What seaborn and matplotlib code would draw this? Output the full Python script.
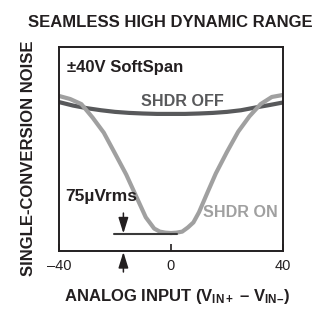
import matplotlib
matplotlib.use("Agg")
import matplotlib.pyplot as plt
import seaborn as sns
import pandas as pd

# Data (arbitrary noise units)
on_x = [-40, -36, -32, -28, -24, -20, -16, -12, -9, -6, -4, -2, 0, 2, 4, 6, 8, 10, 13, 16, 20, 24, 28, 32, 36, 40]
on_y = [76, 74.5, 72, 65.4, 58, 47.8, 37.5, 25.5, 16.5, 11, 9.5, 9, 8.8, 9, 9.5, 11.5, 14, 19, 28.6, 38, 48.6, 58.5, 66, 72, 75.5, 76.5]
off_x = [-40, -35, -30, -25, -20, -15, -10, -5, 0, 5, 10, 15, 20, 25, 30, 35, 40]
off_y = [73, 71.3, 70, 69, 68.2, 67.7, 67.4, 67.2, 67.2, 67.2, 67.4, 67.7, 68.2, 69, 70.3, 71.5, 72.8]
xticks = [-40, 0, 40]
floor_level = 8.3
floor_span = [-20.4, 2.1]

sns.set_theme(style="white")
plt.rcParams['font.family'] = ['Liberation Sans', 'DejaVu Sans']
plt.rcParams['mathtext.fontset'] = 'custom'
plt.rcParams['mathtext.rm'] = 'Liberation Sans:bold'
plt.rcParams['mathtext.it'] = 'Liberation Sans:bold'
plt.rcParams['mathtext.bf'] = 'Liberation Sans:bold'

dark = '#58595b'
light = '#a0a0a0'
ink = '#231f20'

fig = plt.figure(figsize=(3.25, 3.23), dpi=100)
ax = fig.add_axes([0.1815, 0.2229, 0.6893, 0.6316])

df_off = pd.DataFrame({'x': off_x, 'y': off_y})
df_on = pd.DataFrame({'x': on_x, 'y': on_y})
sns.lineplot(data=df_off, x='x', y='y', ax=ax, color=dark, linewidth=3.0, sort=True)
sns.lineplot(data=df_on, x='x', y='y', ax=ax, color=light, linewidth=3.0, sort=True)

ax.set_xlim(-40, 40)
ax.set_ylim(0, 100)
ax.set_xticks(xticks)
ax.set_xticklabels(['\u201340', '0', '40'])
ax.set_yticks([])
ax.tick_params(axis='x', direction='in', length=5, width=1.2, color=ink,
               labelsize=10.5, labelcolor=ink, pad=6, bottom=True)
for s in ax.spines.values():
    s.set_color(ink)
    s.set_linewidth(1.4)

ax.set_xlabel('ANALOG INPUT (V$_{\\mathrm{IN+}}$ \u2013 V$_{\\mathrm{IN\u2013}}$)',
              fontsize=12, fontweight='bold', color=ink)
ax.xaxis.set_label_coords(0.529, -0.175)
ax.set_ylabel('')
ax.text(-0.134, 0.453, 'SINGLE-CONVERSION NOISE', transform=ax.transAxes,
        rotation=90, ha='center', va='center', fontsize=12, fontweight='bold', color=ink)
fig.text(0.523, 0.93, 'SEAMLESS HIGH DYNAMIC RANGE', ha='center', va='center',
         fontsize=12, fontweight='bold', color=ink)

ax.text(-37.2, 90, '\u00b140V SoftSpan', fontsize=12, fontweight='bold', color=ink, va='center')
ax.text(4, 73.5, 'SHDR OFF', fontsize=11.6, fontweight='bold', color=dark, ha='center', va='center')
ax.text(24.8, 19, 'SHDR ON', fontsize=11.6, fontweight='bold', color=light, ha='center', va='center')
ax.text(-37.8, 26.5, '75\u00b5Vrms', fontsize=12.5, fontweight='bold', color=ink, va='center')

ax.plot(floor_span, [floor_level, floor_level], color='#3a3a3a', linewidth=1.5)
arrow_style = '-|>,head_width=0.25,head_length=0.8'
ax.annotate('', xy=(-17.0, floor_level + 0.3), xytext=(-17.0, 18.6),
            arrowprops=dict(arrowstyle=arrow_style, color=ink, lw=1.1, shrinkA=0, shrinkB=0))
ax.annotate('', xy=(-17.0, -0.5), xytext=(-17.0, -10.3),
            arrowprops=dict(arrowstyle=arrow_style, color=ink, lw=1.1, shrinkA=0, shrinkB=0),
            annotation_clip=False)

fig.savefig('out.png', dpi=100)
